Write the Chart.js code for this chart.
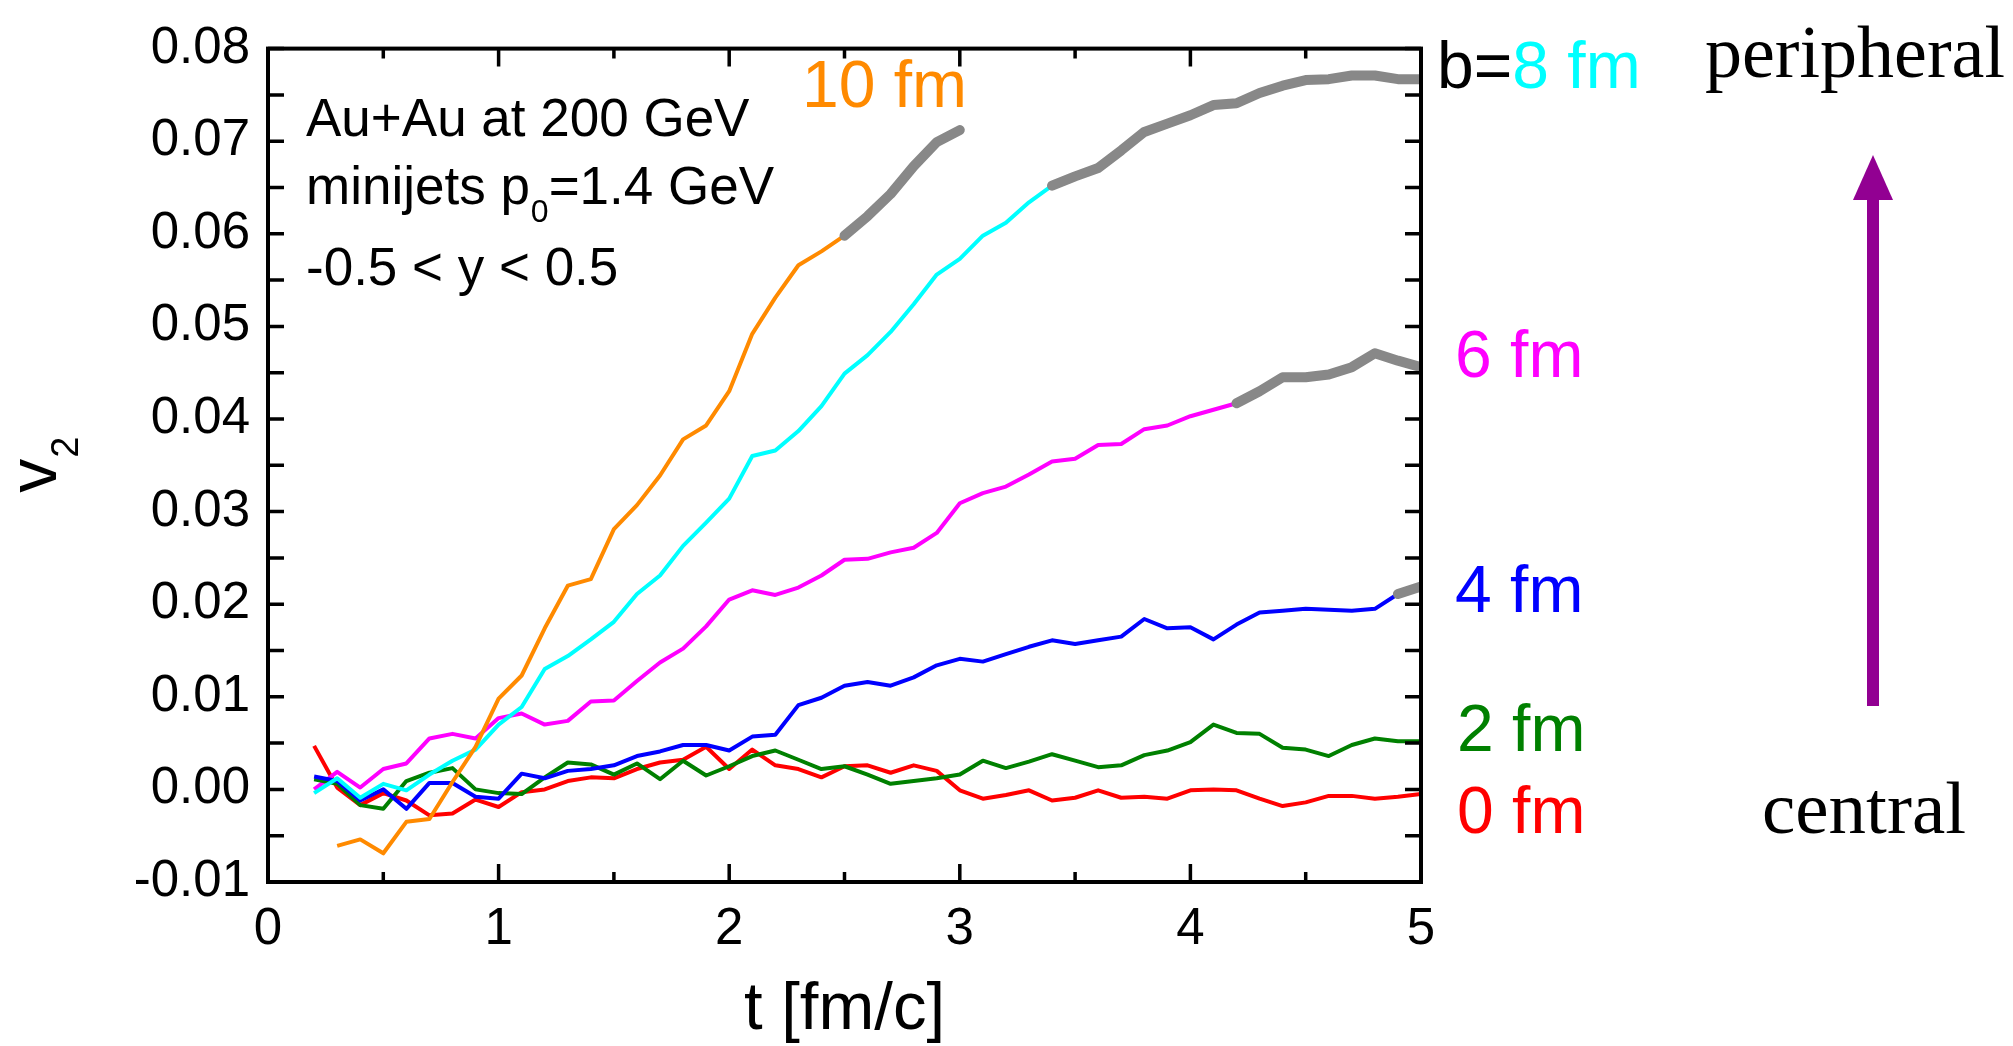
<!DOCTYPE html>
<html>
<head>
<meta charset="utf-8">
<title>v2 vs t</title>
<script src="https://cdn.jsdelivr.net/npm/chart.js@4.4.1/dist/chart.umd.min.js"></script>
<style>
    html, body { margin: 0; padding: 0; background: #fff; }
    #wrap { width: 2013px; height: 1046px; position: relative; }
</style>
</head>
<body>
<div id="wrap"><canvas id="v2Chart"></canvas></div>
<script>
    // time grid (fm/c)
    const tValues = [0.2, 0.3, 0.4, 0.5, 0.6, 0.7, 0.8, 0.9, 1.0, 1.1, 1.2, 1.3, 1.4, 1.5, 1.6, 1.7,
        1.8, 1.9, 2.0, 2.1, 2.2, 2.3, 2.4, 2.5, 2.6, 2.7, 2.8, 2.9, 3.0, 3.1, 3.2, 3.3, 3.4,
        3.5, 3.6, 3.7, 3.8, 3.9, 4.0, 4.1, 4.2, 4.3, 4.4, 4.5, 4.6, 4.7, 4.8, 4.9, 5.0];

    // v2 for each impact parameter b
    const v2_b0 = [0.0047, 0.0002, -0.0017, -0.0004, -0.0012, -0.0028, -0.0026, -0.0011, -0.0019, -0.0003,
        0.0000, 0.0009, 0.0013, 0.0012, 0.0022, 0.0029, 0.0032, 0.0046, 0.0022, 0.0043,
        0.0026, 0.0022, 0.0013, 0.0025, 0.0026, 0.0018, 0.0026, 0.0020, -0.0001, -0.0010,
        -0.0006, -0.0001, -0.0012, -0.0009, -0.0001, -0.0009, -0.0008, -0.0010, -0.0001, 0.0000,
        -0.0001, -0.0010, -0.0018, -0.0014, -0.0007, -0.0007, -0.0010, -0.0008, -0.0005];
    const v2_b2 = [0.0011, 0.0006, -0.0017, -0.0021, 0.0009, 0.0018, 0.0023, 0.0000, -0.0004, -0.0005,
        0.0013, 0.0029, 0.0027, 0.0016, 0.0028, 0.0011, 0.0031, 0.0015, 0.0025, 0.0036,
        0.0042, 0.0032, 0.0022, 0.0025, 0.0016, 0.0006, 0.0009, 0.0012, 0.0016, 0.0031,
        0.0023, 0.0030, 0.0038, 0.0031, 0.0024, 0.0026, 0.0037, 0.0042, 0.0051, 0.0070,
        0.0061, 0.0060, 0.0045, 0.0043, 0.0036, 0.0048, 0.0055, 0.0052, 0.0052];
    const v2_b4 = [0.0014, 0.0009, -0.0012, 0.0000, -0.0021, 0.0007, 0.0007, -0.0008, -0.0010, 0.0017,
        0.0012, 0.0020, 0.0022, 0.0026, 0.0036, 0.0041, 0.0048, 0.0048, 0.0042, 0.0057,
        0.0059, 0.0091, 0.0099, 0.0112, 0.0116, 0.0112, 0.0121, 0.0134, 0.0141, 0.0138,
        0.0146, 0.0154, 0.0161, 0.0157, 0.0161, 0.0165, 0.0184, 0.0174, 0.0175, 0.0162,
        0.0178, 0.0191, 0.0193, 0.0195, 0.0194, 0.0193, 0.0195, 0.0211, 0.0219];
    const v2_b6 = [0.0000, 0.0019, 0.0002, 0.0022, 0.0028, 0.0055, 0.0060, 0.0055, 0.0077, 0.0082,
        0.0070, 0.0074, 0.0095, 0.0096, 0.0117, 0.0137, 0.0152, 0.0176, 0.0205, 0.0215,
        0.0210, 0.0218, 0.0231, 0.0248, 0.0249, 0.0256, 0.0261, 0.0277, 0.0309, 0.0320,
        0.0327, 0.0340, 0.0354, 0.0357, 0.0372, 0.0373, 0.0389, 0.0393, 0.0403, 0.0410,
        0.0417, 0.0430, 0.0445, 0.0445, 0.0448, 0.0456, 0.0471, 0.0463, 0.0456];
    const v2_b8 = [-0.0004, 0.0012, -0.0009, 0.0006, -0.0001, 0.0016, 0.0031, 0.0043, 0.0070, 0.0089,
        0.0130, 0.0144, 0.0162, 0.0181, 0.0211, 0.0231, 0.0263, 0.0288, 0.0314, 0.0360,
        0.0366, 0.0387, 0.0414, 0.0449, 0.0469, 0.0494, 0.0524, 0.0556, 0.0573, 0.0598,
        0.0612, 0.0634, 0.0652, 0.0662, 0.0671, 0.0690, 0.0710, 0.0719, 0.0728, 0.0739,
        0.0741, 0.0752, 0.0760, 0.0766, 0.0767, 0.0771, 0.0771, 0.0767, 0.0767];
    const v2_b10 = [null, -0.0061, -0.0054, -0.0069, -0.0035, -0.0032, 0.0008, 0.0046, 0.0098, 0.0123,
        0.0174, 0.0220, 0.0227, 0.0281, 0.0307, 0.0339, 0.0378, 0.0393, 0.0430, 0.0492,
        0.0531, 0.0566, 0.0581, 0.0598, 0.0619, 0.0643, 0.0673, 0.0699, 0.0712, null,
        null, null, null, null, null, null, null, null, null, null,
        null, null, null, null, null, null, null, null, null];

    // where each curve turns into the thick grey part
    const greyFrom = { b0: null, b2: null, b4: 4.9, b6: 4.2, b8: 3.4, b10: 2.5 };

    // axis ticks
    const xTickValues = [0, 1, 2, 3, 4, 5];
    const xTickLabels = ['0', '1', '2', '3', '4', '5'];
    const xMinorTicks = [0.5, 1.5, 2.5, 3.5, 4.5];
    const yTickValues = [-0.01, 0.00, 0.01, 0.02, 0.03, 0.04, 0.05, 0.06, 0.07, 0.08];
    const yTickLabels = ['-0.01', '0.00', '0.01', '0.02', '0.03', '0.04', '0.05', '0.06', '0.07', '0.08'];
    const yMinorTicks = [-0.005, 0.005, 0.015, 0.025, 0.035, 0.045, 0.055, 0.065, 0.075];

    const SANS = '"Liberation Sans", Arial, Helvetica, sans-serif';
    const SERIF = '"Liberation Serif", "Times New Roman", serif';
    const GREY = '#888888';

    const toPoints = (vals) => tValues.map((t, i) => ({ x: t, y: vals[i] }));

    const makeSet = (label, vals, color, greyStart) => {
        const inGrey = (c) => greyStart !== null && c.p0.parsed.x >= greyStart - 1e-6;
        return {
            label: label,
            data: toPoints(vals),
            borderColor: color,
            borderWidth: 4,
            pointRadius: 0,
            tension: 0,
            spanGaps: false,
            borderJoinStyle: 'round',
            segment: {
                borderColor: (c) => inGrey(c) ? GREY : undefined,
                borderWidth: (c) => inGrey(c) ? 10 : undefined,
                borderCapStyle: (c) => inGrey(c) ? 'round' : undefined
            }
        };
    };

    function drawText(ctx, text, x, y, size, color, family, align) {
        ctx.font = size + 'px ' + (family || SANS);
        ctx.fillStyle = color;
        ctx.textAlign = align || 'left';
        ctx.textBaseline = 'alphabetic';
        ctx.fillText(text, x, y);
        return ctx.measureText(text).width;
    }

    const frameAndNotes = {
        id: 'frameAndNotes',
        afterDraw(chart) {
            const ctx = chart.ctx;
            const { left, right, top, bottom } = chart.chartArea;
            const xs = chart.scales.x, ys = chart.scales.y;
            ctx.save();

            // box + inward ticks
            ctx.strokeStyle = '#000';
            ctx.lineWidth = 4;
            ctx.strokeRect(left, top, right - left, bottom - top);
            ctx.lineWidth = 3.5;
            ctx.beginPath();
            xTickValues.concat(xMinorTicks).forEach(t => {
                const px = xs.getPixelForValue(t);
                const len = xTickValues.includes(t) ? 18 : 10;
                ctx.moveTo(px, bottom); ctx.lineTo(px, bottom - len);
                ctx.moveTo(px, top); ctx.lineTo(px, top + len);
            });
            yTickValues.concat(yMinorTicks).forEach(v => {
                const py = ys.getPixelForValue(v);
                ctx.moveTo(left, py); ctx.lineTo(left + 16, py);
                ctx.moveTo(right, py); ctx.lineTo(right - 16, py);
            });
            ctx.stroke();

            // axis titles
            drawText(ctx, 't [fm/c]', (left + right) / 2, 1029, 67, '#000', SANS, 'center');
            ctx.save();
            ctx.translate(56, (top + bottom) / 2);
            ctx.rotate(-Math.PI / 2);
            ctx.font = '68px ' + SANS;
            const wv = ctx.measureText('v').width;
            ctx.font = '38px ' + SANS;
            const w2 = ctx.measureText('2').width;
            const sx = -(wv + w2) / 2;
            drawText(ctx, 'v', sx, 0, 68, '#000');
            drawText(ctx, '2', sx + wv + 1, 22, 38, '#000');
            ctx.restore();

            // annotation
            drawText(ctx, 'Au+Au at 200 GeV', 306, 136, 53, '#000');
            let x = 306;
            x += drawText(ctx, 'minijets p', x, 204, 53, '#000');
            x += drawText(ctx, '0', x + 1, 222, 32, '#000') + 1;
            drawText(ctx, '=1.4 GeV', x, 204, 53, '#000');
            drawText(ctx, '-0.5 < y < 0.5', 306, 285, 53, '#000');

            // curve labels
            drawText(ctx, '10 fm', 802, 107, 66, '#ff8a00');
            const wb = drawText(ctx, 'b=', 1437, 88, 66, '#000');
            drawText(ctx, '8 fm', 1437 + wb, 88, 66, '#00ffff');
            drawText(ctx, '6 fm', 1455, 377, 66, '#ff00ff');
            drawText(ctx, '4 fm', 1455, 612, 66, '#0000ff');
            drawText(ctx, '2 fm', 1457, 751, 66, '#008000');
            drawText(ctx, '0 fm', 1457, 833, 66, '#ff0000');

            // centrality arrow
            drawText(ctx, 'peripheral', 1705, 77, 74, '#000', SERIF);
            drawText(ctx, 'central', 1762, 833, 75, '#000', SERIF);
            ctx.fillStyle = '#920092';
            ctx.fillRect(1867, 196, 12, 510);
            ctx.beginPath();
            ctx.moveTo(1873, 155);
            ctx.lineTo(1893, 200);
            ctx.lineTo(1853, 200);
            ctx.closePath();
            ctx.fill();

            ctx.restore();
        }
    };

    const ctx = document.getElementById('v2Chart').getContext('2d');
    new Chart(ctx, {
        type: 'line',
        data: {
            datasets: [
                makeSet('10 fm', v2_b10, '#ff8a00', greyFrom.b10),
                makeSet('8 fm', v2_b8, '#00ffff', greyFrom.b8),
                makeSet('4 fm', v2_b4, '#0000ff', greyFrom.b4),
                makeSet('2 fm', v2_b2, '#008000', greyFrom.b2),
                makeSet('6 fm', v2_b6, '#ff00ff', greyFrom.b6),
                makeSet('0 fm', v2_b0, '#ff0000', greyFrom.b0)
            ]
        },
        options: {
            responsive: true,
            maintainAspectRatio: false,
            animation: false,
            layout: { padding: { left: 0, top: 36, right: 592, bottom: 0 } },
            plugins: {
                legend: { display: false },
                tooltip: { enabled: false }
            },
            scales: {
                x: {
                    type: 'linear',
                    min: 0,
                    max: 5,
                    grid: { display: false, drawTicks: false },
                    border: { display: false },
                    afterBuildTicks: (s) => { s.ticks = xTickValues.map(v => ({ value: v })); },
                    afterFit: (s) => { s.height = 164; },
                    ticks: {
                        autoSkip: false,
                        maxRotation: 0,
                        padding: 17,
                        color: '#000',
                        font: { family: SANS, size: 51 },
                        callback: (v, i) => xTickLabels[i]
                    }
                },
                y: {
                    type: 'linear',
                    min: -0.01,
                    max: 0.08,
                    grid: { display: false, drawTicks: false },
                    border: { display: false },
                    afterBuildTicks: (s) => { s.ticks = yTickValues.map(v => ({ value: v })); },
                    afterFit: (s) => { s.width = 268; },
                    ticks: {
                        autoSkip: false,
                        padding: 18,
                        color: '#000',
                        font: { family: SANS, size: 51 },
                        callback: (v, i) => yTickLabels[i]
                    }
                }
            }
        },
        plugins: [frameAndNotes]
    });
</script>
</body>
</html>
